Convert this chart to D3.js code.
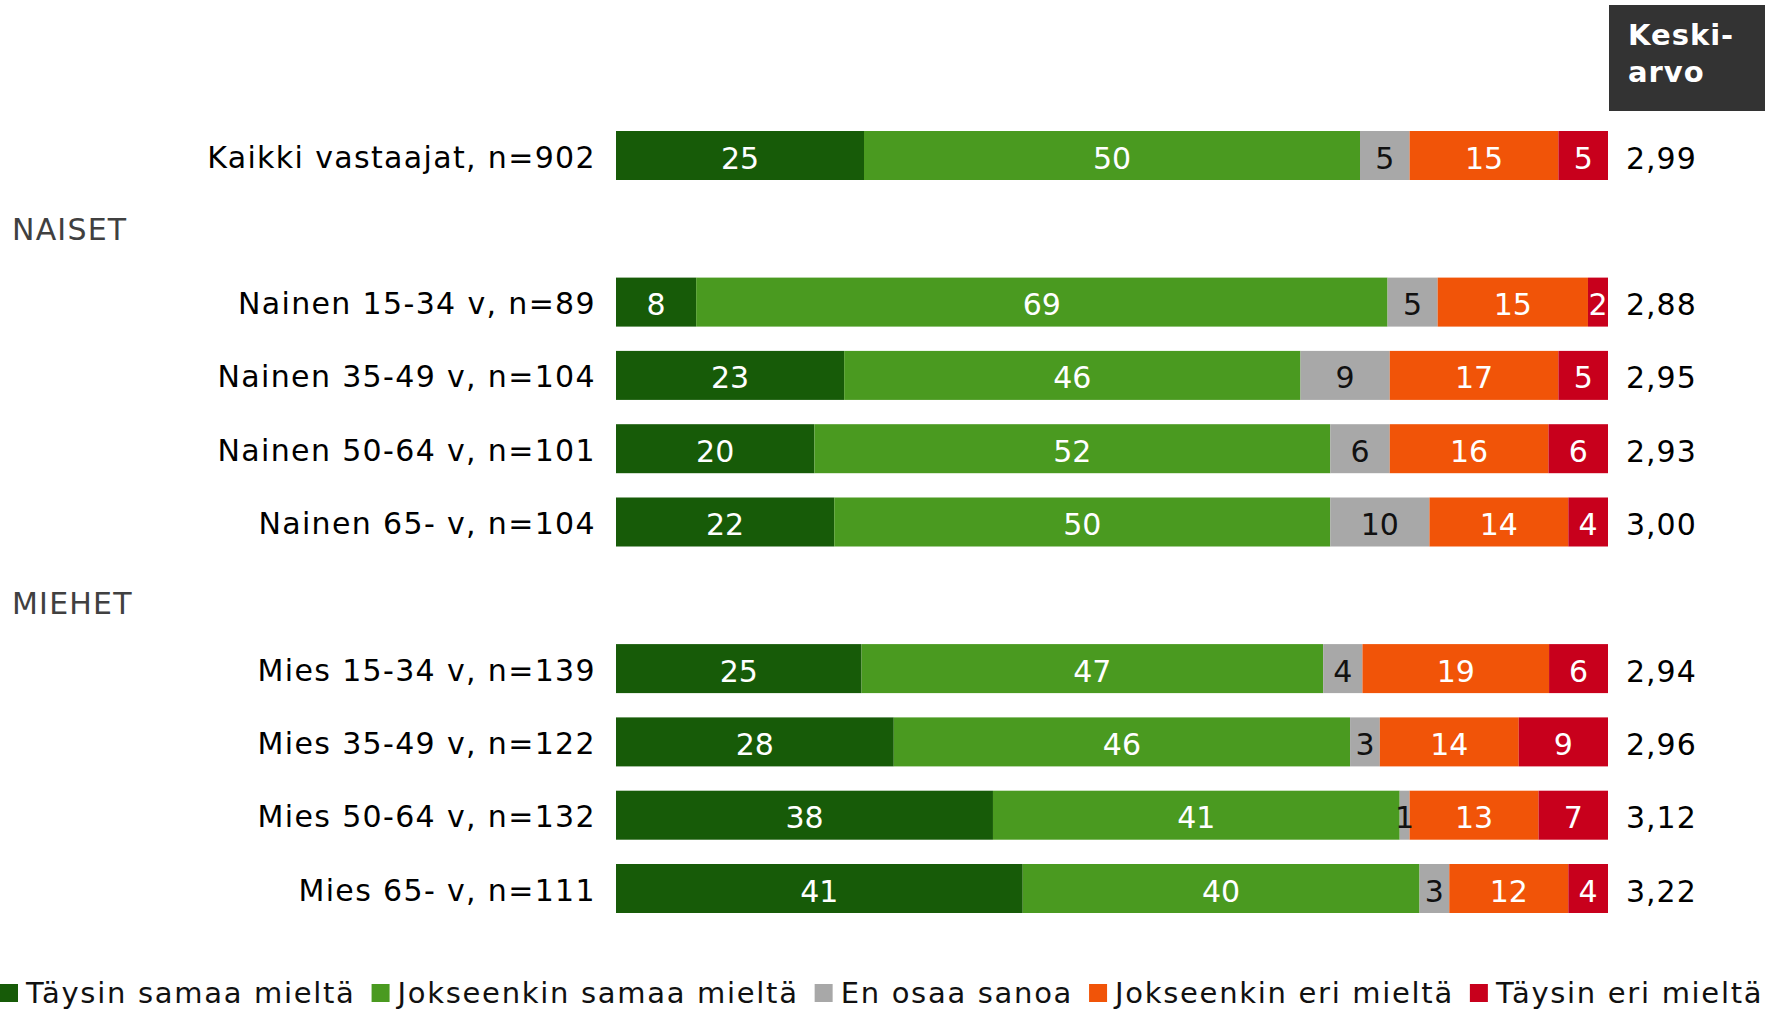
<!DOCTYPE html>
<html>
<head>
<meta charset="utf-8">
<script src="https://cdn.jsdelivr.net/npm/d3@7"></script>
<style>
    body { margin: 0; background: #fff; }
    svg text { font-family: "DejaVu Sans", Verdana, sans-serif; }
</style>
</head>
<body>
<div id="chart"></div>
<script>
const width = 1765;
const height = 1011;

// vastausvaihtoehdot ja värit
const categories = ["Täysin samaa mieltä", "Jokseenkin samaa mieltä", "En osaa sanoa", "Jokseenkin eri mieltä", "Täysin eri mieltä"];
const colors = ["#175b08", "#4a9a20", "#a8a8a8", "#f15408", "#c8001c"];
const textColors = ["#fff", "#fff", "#111", "#fff", "#fff"];

// rivit (ryhmäotsikot mukana)
const rows = ["Kaikki vastaajat, n=902", "NAISET",
    "Nainen 15-34 v, n=89", "Nainen 35-49 v, n=104", "Nainen 50-64 v, n=101", "Nainen 65- v, n=104",
    "MIEHET",
    "Mies 15-34 v, n=139", "Mies 35-49 v, n=122", "Mies 50-64 v, n=132", "Mies 65- v, n=111"];
const headers = ["NAISET", "MIEHET"];

const groups = ["Kaikki vastaajat, n=902",
    "Nainen 15-34 v, n=89", "Nainen 35-49 v, n=104", "Nainen 50-64 v, n=101", "Nainen 65- v, n=104",
    "Mies 15-34 v, n=139", "Mies 35-49 v, n=122", "Mies 50-64 v, n=132", "Mies 65- v, n=111"];
const taysinSamaa = [25, 8, 23, 20, 22, 25, 28, 38, 41];
const jokseenkinSamaa = [50, 69, 46, 52, 50, 47, 46, 41, 40];
const enOsaa = [5, 5, 9, 6, 10, 4, 3, 1, 3];
const jokseenkinEri = [15, 15, 17, 16, 14, 19, 14, 13, 12];
const taysinEri = [5, 2, 5, 6, 4, 6, 9, 7, 4];
const keskiarvo = ["2,99", "2,88", "2,95", "2,93", "3,00", "2,94", "2,96", "3,12", "3,22"];

const series = [taysinSamaa, jokseenkinSamaa, enOsaa, jokseenkinEri, taysinEri];

const data = groups.map((g, i) => {
    const vals = series.map(s => s[i]);
    const total = d3.sum(vals);
    let acc = 0;
    const segs = vals.map((v, k) => {
        const seg = {k: k, v: v, x0: acc / total, x1: (acc + v) / total};
        acc += v;
        return seg;
    });
    return {group: g, segs: segs, mean: keskiarvo[i]};
});

const svg = d3.select("#chart")
    .append("svg")
    .attr("width", width)
    .attr("height", height);

const x = d3.scaleLinear()
    .domain([0, 1])
    .range([616, 1608]);

const y = d3.scalePoint()
    .domain(rows)
    .range([155.5, 888.5]);

const barH = 49;

const row = svg.selectAll("g.row")
    .data(data)
    .enter()
    .append("g")
    .attr("class", "row")
    .attr("transform", d => `translate(0,${y(d.group)})`);

row.selectAll("rect")
    .data(d => d.segs)
    .enter()
    .append("rect")
    .attr("x", d => x(d.x0))
    .attr("width", d => x(d.x1) - x(d.x0))
    .attr("y", -barH / 2)
    .attr("height", barH)
    .attr("fill", d => colors[d.k]);

row.selectAll("text.val")
    .data(d => d.segs)
    .enter()
    .append("text")
    .attr("class", "val")
    .attr("x", d => (x(d.x0) + x(d.x1)) / 2)
    .attr("y", 13)
    .attr("text-anchor", "middle")
    .attr("font-size", 30)
    .attr("fill", d => textColors[d.k])
    .text(d => d.v);

row.append("text")
    .attr("x", 596)
    .attr("y", 12)
    .attr("text-anchor", "end")
    .attr("font-size", 30)
    .attr("letter-spacing", 1.35)
    .attr("fill", "#000")
    .text(d => d.group);

row.append("text")
    .attr("x", 1626)
    .attr("y", 13)
    .attr("font-size", 30)
    .attr("letter-spacing", 1)
    .attr("fill", "#000")
    .text(d => d.mean);

// ryhmäotsikot
const nudge = {"NAISET": 0, "MIEHET": 8};
svg.selectAll("text.hdr")
    .data(headers)
    .enter()
    .append("text")
    .attr("class", "hdr")
    .attr("x", 12)
    .attr("y", d => y(d) + 11 + nudge[d])
    .attr("font-size", 30)
    .attr("letter-spacing", 1.2)
    .attr("fill", "#404040")
    .text(d => d);

// Keskiarvo-laatikko
svg.append("rect")
    .attr("x", 1609)
    .attr("y", 5)
    .attr("width", width - 1609)
    .attr("height", 106)
    .attr("fill", "#333");

svg.append("text")
    .attr("x", 1628)
    .attr("font-size", 29)
    .attr("font-weight", "bold")
    .attr("letter-spacing", 1)
    .attr("fill", "#fff")
    .selectAll("tspan")
    .data(["Keski-", "arvo"])
    .enter()
    .append("tspan")
    .attr("x", 1628)
    .attr("y", (d, i) => 45 + i * 37)
    .text(d => d);

// selite
const legend = svg.append("g");
let lx = 0;
categories.forEach((c, i) => {
    legend.append("rect")
        .attr("x", lx)
        .attr("y", 984)
        .attr("width", 18)
        .attr("height", 18)
        .attr("fill", colors[i]);
    const t = legend.append("text")
        .attr("x", lx + 26)
        .attr("y", 1003)
        .attr("font-size", 29)
        .attr("letter-spacing", 1.7)
        .attr("fill", "#111")
        .text(c);
    lx += 26 + t.node().getComputedTextLength() + 16;
});
</script>
</body>
</html>
